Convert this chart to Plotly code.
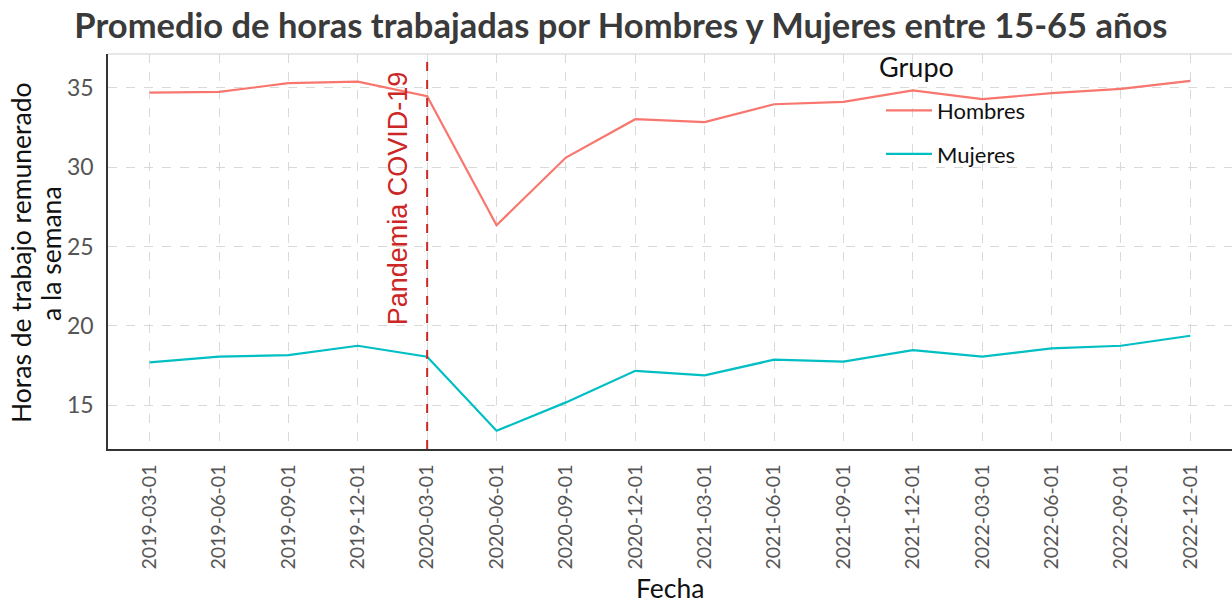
import plotly.graph_objects as go

fechas = ["2019-03-01", "2019-06-01", "2019-09-01", "2019-12-01",
          "2020-03-01", "2020-06-01", "2020-09-01", "2020-12-01",
          "2021-03-01", "2021-06-01", "2021-09-01", "2021-12-01",
          "2022-03-01", "2022-06-01", "2022-09-01", "2022-12-01"]
hombres = [34.71, 34.75, 35.30, 35.40, 34.48, 26.34, 30.61, 33.03,
           32.84, 33.97, 34.12, 34.85, 34.29, 34.67, 34.94, 35.44]
mujeres = [17.69, 18.05, 18.15, 18.74, 18.05, 13.38, 15.17, 17.16,
           16.87, 17.86, 17.74, 18.47, 18.05, 18.58, 18.74, 19.37]
y_ticks = [15, 20, 25, 30, 35]
fecha_pandemia = "2020-03-01"
texto_pandemia = "Pandemia COVID-19"
titulo_y = ["Horas de trabajo remunerado", "a la semana"]
titulo_x = "Fecha"

FONT = "Lato, 'Open Sans', sans-serif"
L, T, W, H = 108, 54, 1124, 395  # plot area in px


def px_x(p):
    return (p - L) / W


def px_y(p):
    return 1 - (p - T) / H


fig = go.Figure()
fig.add_trace(go.Scatter(x=fechas, y=hombres, mode="lines", name="Hombres",
                         legendgroup="h",
                         line=dict(color="#F8766D", width=2.2)))
fig.add_trace(go.Scatter(x=fechas, y=mujeres, mode="lines", name="Mujeres",
                         legendgroup="m",
                         line=dict(color="#00BFC4", width=2.2)))

# vertical line for pandemic start
fig.add_shape(type="line", xref="x", yref="paper",
              x0=fecha_pandemia, x1=fecha_pandemia, y0=0, y1=1,
              line=dict(color="#CD2626", width=2, dash="dash"))
fig.add_annotation(x=fecha_pandemia, y=28.05, xref="x", yref="y",
                   text=texto_pandemia, textangle=-90, showarrow=False,
                   xshift=-29, xanchor="center", yanchor="middle",
                   font=dict(family="'Liberation Sans', Arial, sans-serif",
                             size=27, color="#CD2626"))
# legend title
fig.add_annotation(x=px_x(877), y=px_y(66), xref="paper", yref="paper",
                   text="Grupo", showarrow=False, xanchor="left", yanchor="middle",
                   font=dict(family=FONT, size=27, color="#111111"))
# axis titles
for txt, cx in zip(titulo_y, [21, 51]):
    fig.add_annotation(x=px_x(cx), y=px_y(253), xref="paper", yref="paper",
                       text=txt, textangle=-90, showarrow=False,
                       xanchor="center", yanchor="middle",
                       font=dict(family=FONT, size=26.5, color="#111111"))
fig.add_annotation(x=px_x(670), y=px_y(588), xref="paper", yref="paper",
                   text=titulo_x, showarrow=False,
                   xanchor="center", yanchor="middle",
                   font=dict(family=FONT, size=26.5, color="#111111"))
# light top border
fig.add_shape(type="line", xref="paper", yref="paper", x0=0, x1=1, y0=1, y1=1,
              line=dict(color="#cfcfcf", width=1))

fig.update_layout(
    width=1232, height=607,
    margin=dict(l=L, r=0, t=T, b=607 - T - H),
    paper_bgcolor="white", plot_bgcolor="white",
    font=dict(family=FONT, color="#000000"),
    title=dict(text="Promedio de horas trabajadas por Hombres y Mujeres entre 15-65 años",
               x=0.504, xanchor="center", y=0.958, yanchor="middle",
               xref="container",
               font=dict(family=FONT, size=34.5, color="#3a3a3a", weight="bold")),
    legend=dict(x=px_x(881), y=0.91, xanchor="left", yanchor="top",
                bgcolor="rgba(0,0,0,0)",
                font=dict(size=22, color="#111111"),
                itemwidth=46,
                traceorder="grouped", tracegroupgap=12),
    showlegend=True,
)

fig.update_xaxes(type="category", range=[-0.6, 15.6],
                 tickangle=-90, ticks="", ticklabelstandoff=6,
                 tickfont=dict(family=FONT, size=19.5, color="#555555"),
                 showgrid=True, gridcolor="#d9d9d9", griddash="dash", gridwidth=1,
                 showline=True, linecolor="#333333", linewidth=1.5,
                 zeroline=False)
fig.update_yaxes(range=[12.23, 37.14], tickvals=y_ticks,
                 ticks="", ticklabelstandoff=8,
                 tickfont=dict(family=FONT, size=23, color="#555555"),
                 showgrid=True, gridcolor="#d9d9d9", griddash="dash", gridwidth=1,
                 showline=True, linecolor="#333333", linewidth=1.5,
                 zeroline=False)

fig.write_html("out.html", config={"displayModeBar": False},
               post_script="document.body.style.margin='0px';")
